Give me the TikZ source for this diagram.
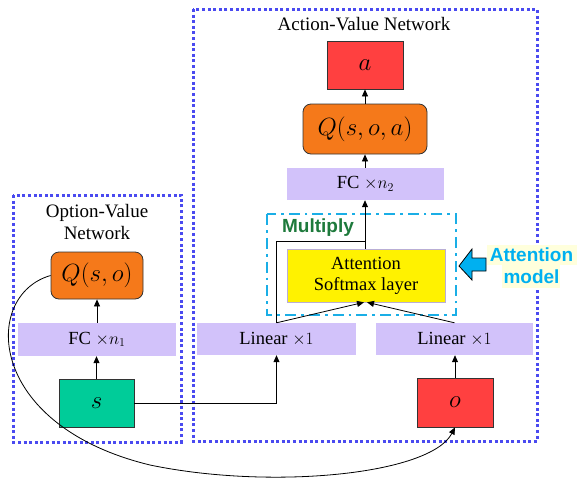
\documentclass[tikz,border=0pt]{standalone}
\usepackage{fontspec}
\setmainfont{Liberation Serif}
\newfontfamily\calloutfont{Liberation Sans}
\usetikzlibrary{arrows.meta}
\definecolor{dotblue}{HTML}{4A4AF0}
\definecolor{boxred}{HTML}{FF4040}
\definecolor{boxorange}{HTML}{F5791A}
\definecolor{boxgreen}{HTML}{00CC99}
\definecolor{lav}{HTML}{D2C2FA}
\definecolor{cyanline}{HTML}{1AAEE6}
\definecolor{multgreen}{HTML}{1E7A3C}
\definecolor{callcyan}{HTML}{00B0F0}
\definecolor{callbg}{HTML}{FFFFDC}
\begin{document}
\begin{tikzpicture}[x=1pt,y=-1pt,
  txt/.style={font=\fontsize{18.5}{21}\selectfont},
  ttl/.style={font=\fontsize{19}{22}\selectfont},
  grp/.style={draw=dotblue,line width=3pt,dash pattern=on 3pt off 2.6pt},
  outbox/.style={draw=black!80,line width=0.8pt,inner sep=0pt},
  layer/.style={fill=lav,inner sep=0pt,txt},
  mathfont/.style={font=\fontsize{24}{28}\selectfont},
  qbox/.style={outbox,fill=boxorange,rounded corners=8pt,mathfont},
  arr/.style={-{Triangle[width=6pt,length=7pt]},line width=0.8pt},
  conn/.style={line width=0.8pt}]
\useasboundingbox (0,0) rectangle (578,477);
% group boxes
\draw[grp] (193,9) rectangle (537,441);
\draw[grp] (13,195) rectangle (181,442);
\node[ttl] (avtitle) at (364,24) {Action-Value Network};
\node[ttl,align=center] (ovtitle) at (97,222) {Option-Value\\Network};
% action-value nodes
\node[outbox,fill=boxred,minimum width=76pt,minimum height=48pt,mathfont] (a) at (365,65) {$a$};
\node[qbox,minimum width=124pt,minimum height=50pt] (qsoa) at (365,129) {$Q(s,o,a)$};
\node[layer,minimum width=157pt,minimum height=32pt] (fc2) at (365.5,184) {FC $\times n_2$};
\draw[cyanline,line width=2.8pt,dash pattern=on 11pt off 5pt on 2.8pt off 5pt] (267,214) rectangle (456,315);
\node[font=\calloutfont\bfseries\fontsize{19}{22}\selectfont,text=multgreen] (mult) at (318,228) {Multiply};
\node[draw=lav!70!gray,line width=0.6pt,fill=yellow,minimum width=158pt,minimum height=53pt,inner sep=0pt,txt,align=center] (attn) at (366,275.5) {Attention\\Softmax layer};
\node[layer,minimum width=159pt,minimum height=32pt] (lin1) at (276.5,339) {Linear $\times1$};
\node[layer,minimum width=157pt,minimum height=32pt] (lin2) at (454.5,339) {Linear $\times1$};
\node[outbox,fill=boxred,minimum width=76pt,minimum height=49pt,mathfont] (o) at (455,402.5) {$o$};
% option-value nodes
\node[qbox,minimum width=92pt,minimum height=47pt] (qso) at (97,275.5) {$Q(s,o)$};
\node[layer,minimum width=158pt,minimum height=33pt] (fc1) at (97,339.5) {FC $\times n_1$};
\node[outbox,fill=boxgreen,minimum width=75pt,minimum height=48pt,mathfont] (s) at (96.5,403) {$s$};
% callout
\fill[callbg] (487,245) rectangle (577,265);
\fill[callbg] (502,265) rectangle (560,288);
\node[font=\calloutfont\bfseries\fontsize{19}{22}\selectfont,text=callcyan,align=center] (call) at (531.5,266) {Attention\\model};
\draw[fill=callcyan,line width=0.8pt,line join=miter] (459,266) -- (472,249) -- (472,258) -- (486,258) -- (486,271) -- (472,271) -- (472,280) -- cycle;
% connectors
\coordinate (j) at (attn.north |- 0,241);
\draw[arr] (qsoa.north) -- (a.south);
\draw[arr] (fc2.north -| qsoa) -- (qsoa.south);
\draw[arr] (attn.north -| qsoa) -- (fc2.south -| qsoa);
\draw[conn] (lin1.north) |- (j -| qsoa);
\draw[arr] (lin1.north) -- ([xshift=-2pt]attn.south);
\draw[arr] (lin2.north) -- ([xshift=1pt]attn.south);
\draw[arr] (o.north) -- (lin2.south -| o.north);
\draw[arr] (s.east) -| (lin1.south);
\draw[arr] (s.north) -- (fc1.south -| s.north);
\draw[arr] (fc1.north -| qso) -- (qso.south);
\draw[arr] (qso.west) .. controls (-18,295) and (-15,425) .. (150,465) .. controls (270,490) and (430,475) .. (o.south);
\end{tikzpicture}
\end{document}
